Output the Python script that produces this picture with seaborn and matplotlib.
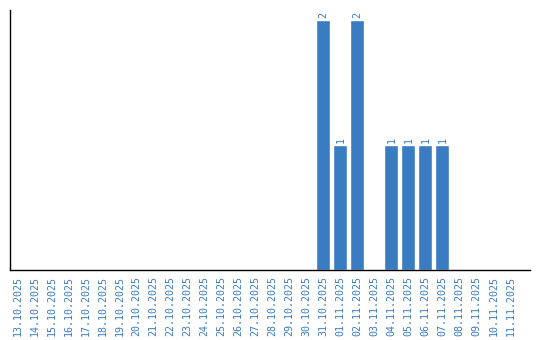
import matplotlib
matplotlib.use("Agg")
import matplotlib.pyplot as plt
import seaborn as sns
import pandas as pd

dates = ["13.10.2025", "14.10.2025", "15.10.2025", "16.10.2025", "17.10.2025",
         "18.10.2025", "19.10.2025", "20.10.2025", "21.10.2025", "22.10.2025",
         "23.10.2025", "24.10.2025", "25.10.2025", "26.10.2025", "27.10.2025",
         "28.10.2025", "29.10.2025", "30.10.2025", "31.10.2025", "01.11.2025",
         "02.11.2025", "03.11.2025", "04.11.2025", "05.11.2025", "06.11.2025",
         "07.11.2025", "08.11.2025", "09.11.2025", "10.11.2025", "11.11.2025"]
counts = [0, 0, 0, 0, 0, 0, 0, 0, 0, 0,
          0, 0, 0, 0, 0, 0, 0, 0, 2, 1,
          2, 0, 1, 1, 1, 1, 0, 0, 0, 0]

df = pd.DataFrame({"date": dates, "count": counts})

sns.set_style("white")
plt.rcParams["font.family"] = ["DejaVu Sans Mono", "DejaVu Sans"]

bar_color = "#3a7cc2"
text_color = "#3a7cc2"

fig = plt.figure(figsize=(5.4, 3.4), dpi=100)
ax = fig.add_axes([10 / 540, 70 / 340, 520 / 540, 260 / 340])

sns.barplot(data=df, x="date", y="count", color=bar_color, width=0.82,
            saturation=1, ax=ax, order=dates)

labels = ["" if v == 0 else str(v) for v in counts]
ax.bar_label(ax.containers[0], labels=labels, rotation=90, padding=1.5,
             fontsize=7.2, color=text_color)

ax.set_xlim(-0.44, 30.15)
ax.set_ylim(0, 2.08)
ax.set_xlabel("")
ax.set_ylabel("")
ax.set_yticks([])
ax.tick_params(axis="x", length=0, pad=4, labelsize=7.2, labelcolor=text_color,
               rotation=90)
for lab in ax.get_xticklabels():
    lab.set_verticalalignment("top")

for side in ["top", "right"]:
    ax.spines[side].set_visible(False)
for side in ["left", "bottom"]:
    ax.spines[side].set_color("black")
    ax.spines[side].set_linewidth(1.0)

fig.savefig("out.png", dpi=100)
